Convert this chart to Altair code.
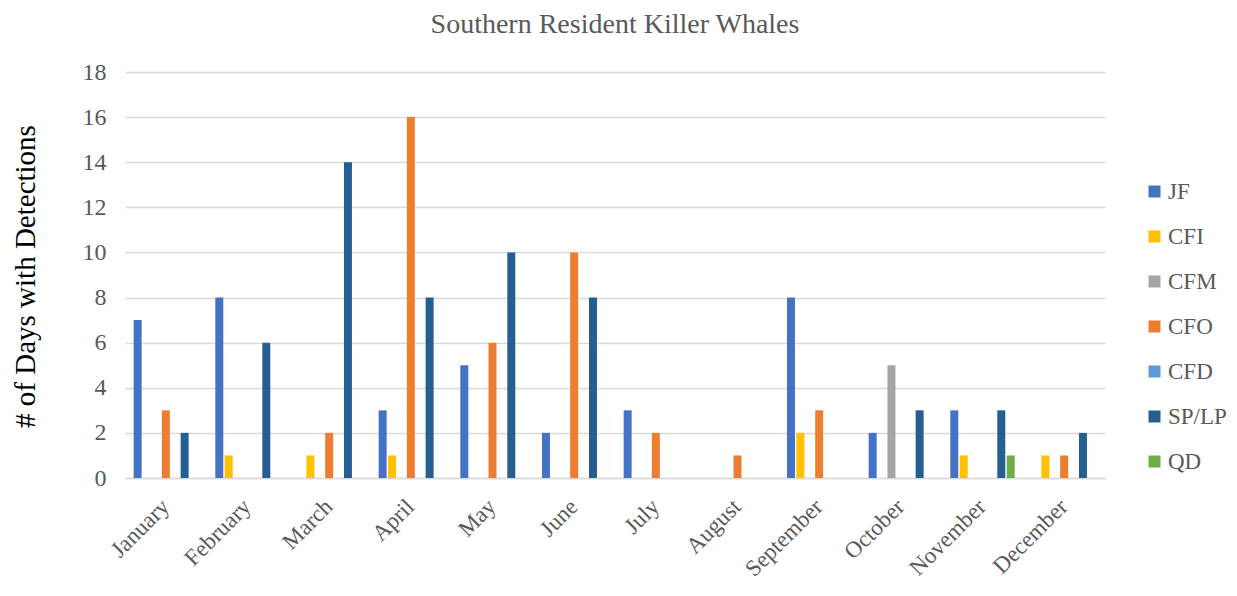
import altair as alt
import pandas as pd

months = ["January", "February", "March", "April", "May", "June", "July",
          "August", "September", "October", "November", "December"]
series = ["JF", "CFI", "CFM", "CFO", "CFD", "SP/LP", "QD"]
colors = ["#4472C4", "#FFC000", "#A5A5A5", "#ED7D31", "#5B9BD5", "#255E91", "#70AD47"]

values = {
    "JF":    [7, 8, 0, 3, 5, 2, 3, 0, 8, 2, 3, 0],
    "CFI":   [0, 1, 1, 1, 0, 0, 0, 0, 2, 0, 1, 1],
    "CFM":   [0, 0, 0, 0, 0, 0, 0, 0, 0, 5, 0, 0],
    "CFO":   [3, 0, 2, 16, 6, 10, 2, 1, 3, 0, 0, 1],
    "CFD":   [0, 0, 0, 0, 0, 0, 0, 0, 0, 0, 0, 0],
    "SP/LP": [2, 6, 14, 8, 10, 8, 0, 0, 0, 3, 3, 2],
    "QD":    [0, 0, 0, 0, 0, 0, 0, 0, 0, 0, 1, 0],
}

rows = []
for s in series:
    for m, v in zip(months, values[s]):
        rows.append({"Month": m, "Series": s, "Days": v})
df = pd.DataFrame(rows)

FONT = "Liberation Serif"
GRAY = "#595959"

chart = alt.Chart(df).mark_bar().encode(
    x=alt.X("Month:N", sort=months,
            scale=alt.Scale(paddingInner=0, paddingOuter=0),
            axis=alt.Axis(title=None, labelAngle=-45, labelAlign="right",
                          labelBaseline="top", labelPadding=17, labelOffset=-8,
                          ticks=False, domainColor="#d9d9d9", domainWidth=1.5,
                          labelFont=FONT, labelFontSize=23, labelColor=GRAY)),
    xOffset=alt.XOffset("Series:N", sort=series,
                        scale=alt.Scale(paddingInner=0.15, paddingOuter=0.92)),
    y=alt.Y("Days:Q", scale=alt.Scale(domain=[0, 18]),
            axis=alt.Axis(values=list(range(0, 19, 2)), title="# of Days with Detections",
                          titleFont=FONT, titleFontSize=29, titleFontWeight="normal",
                          titleColor="#000000", titleX=-100, titleY=204,
                          titleAlign="center", titleBaseline="middle",
                          labelFont=FONT, labelFontSize=24, labelColor=GRAY,
                          labelPadding=19, ticks=False, domain=False,
                          gridColor="#d9d9d9", gridWidth=1.5)),
    color=alt.Color("Series:N", sort=series,
                    scale=alt.Scale(domain=series, range=colors),
                    legend=alt.Legend(title=None, orient="none", legendX=1018, legendY=108,
                                      symbolType="square", symbolSize=144,
                                      symbolStrokeWidth=0,
                                      labelFont=FONT, labelFontSize=23, labelColor=GRAY,
                                      rowPadding=21, labelOffset=2)),
).properties(
    width=980, height=406,
    autosize=alt.AutoSizeParams(type="none"),
    padding={"left": 117, "top": 64, "right": 124, "bottom": 110},
    title=alt.TitleParams("Southern Resident Killer Whales", font=FONT, fontSize=28,
                          fontWeight="normal", color=GRAY, offset=21),
).configure_view(stroke=None)

chart.save("out.html", embed_options={"renderer": "svg", "actions": False})
